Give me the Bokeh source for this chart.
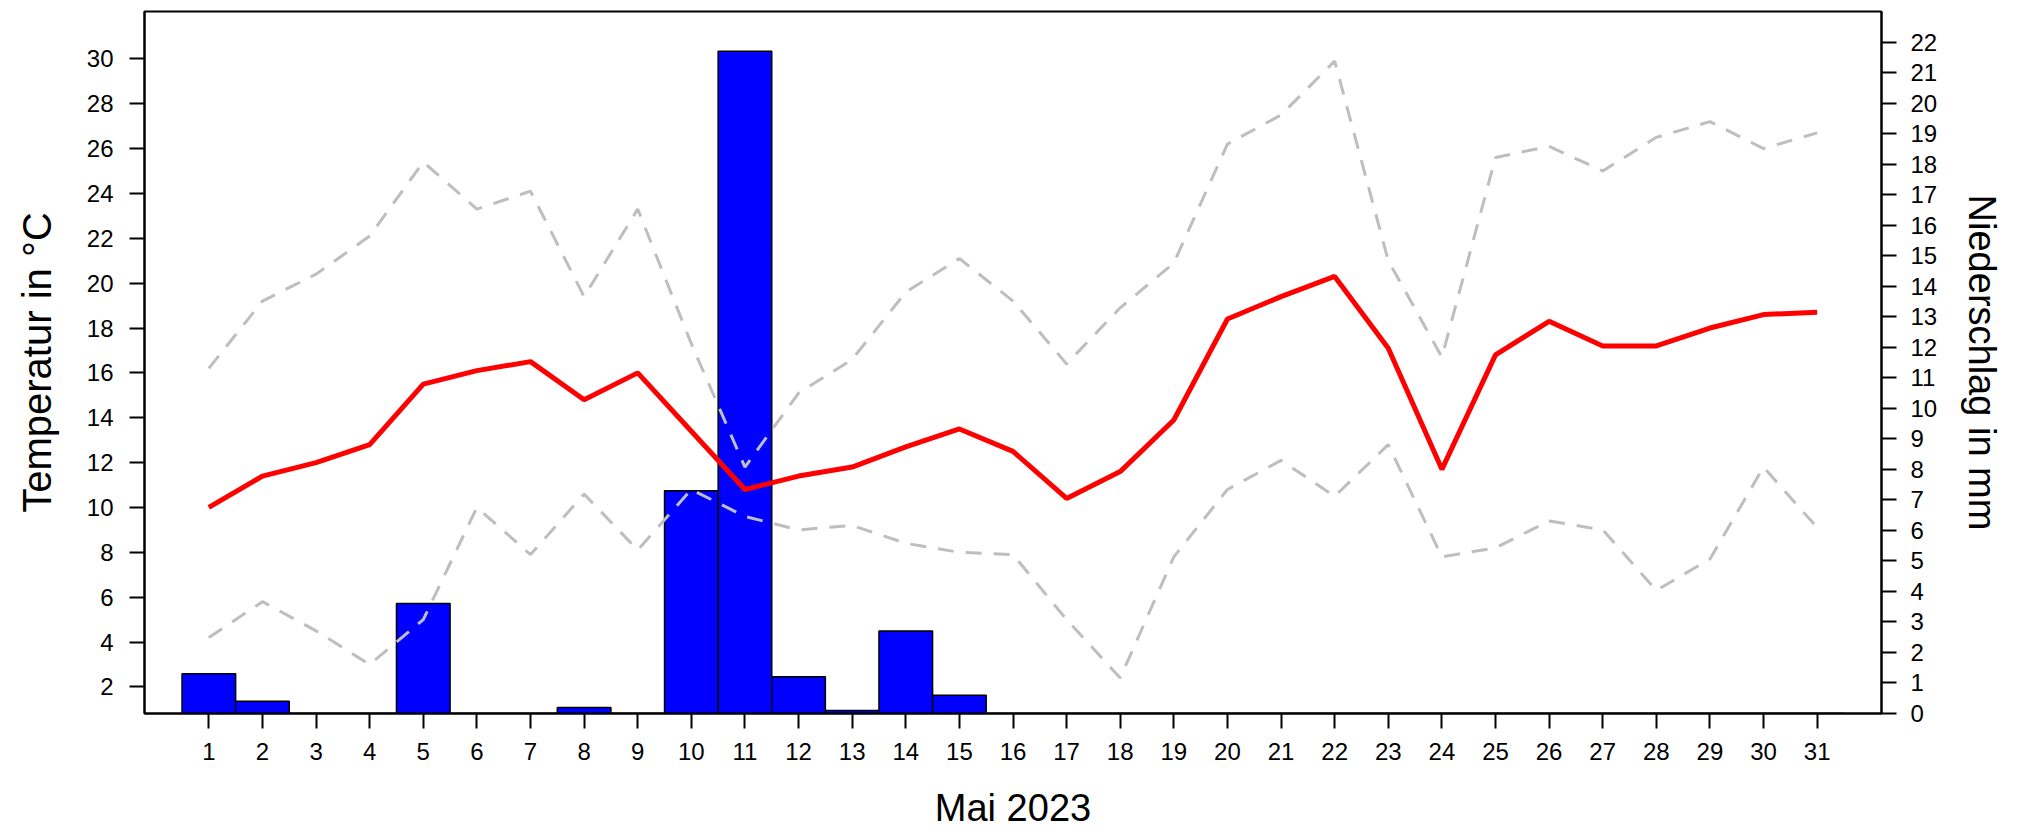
from bokeh.plotting import figure
from bokeh.models import Range1d, LinearAxis, FixedTicker
from bokeh.embed import file_html
from bokeh.resources import INLINE

days = list(range(1, 32))
t_mean = [10.0, 11.4, 12.0, 12.8, 15.5, 16.1, 16.5, 14.8, 16.0, 13.4, 10.8,
          11.4, 11.8, 12.7, 13.5, 12.5, 10.4, 11.6, 13.9, 18.4, 19.4, 20.3,
          17.1, 11.7, 16.8, 18.3, 17.2, 17.2, 18.0, 18.6, 18.7]
t_max = [16.2, 19.2, 20.4, 22.1, 25.4, 23.3, 24.1, 19.4, 23.3, 17.3, 11.8,
         15.1, 16.6, 19.6, 21.1, 19.2, 16.4, 18.9, 20.9, 26.2, 27.5, 29.9,
         21.0, 16.7, 25.6, 26.1, 25.0, 26.5, 27.2, 26.0, 26.7]
t_min = [4.2, 5.8, 4.5, 3.0, 5.0, 10.0, 7.9, 10.6, 8.1, 10.8, 9.6,
         9.0, 9.2, 8.4, 8.0, 7.9, 5.0, 2.4, 7.8, 10.8, 12.1, 10.5,
         12.8, 7.8, 8.2, 9.4, 9.0, 6.3, 7.7, 11.8, 9.1]
rain = [1.3, 0.4, 0.0, 0.0, 3.6, 0.0, 0.0, 0.2, 0.0, 7.3, 21.7,
        1.2, 0.1, 2.7, 0.6, 0.0, 0.0, 0.0, 0.0, 0.0, 0.0, 0.0,
        0.0, 0.0, 0.0, 0.0, 0.0, 0.0, 0.0, 0.0, 0.0]
temp_ticks = list(range(2, 31, 2))
rain_ticks = list(range(0, 23))

FONT = "Liberation Sans, Arial, sans-serif"

p = figure(width=2023, height=832,
           x_range=Range1d(-0.2, 32.2), y_range=Range1d(0.815, 32.11),
           output_backend="svg", toolbar_location=None,
           min_border_left=144, min_border_right=142,
           min_border_top=11, min_border_bottom=119)
p.extra_y_ranges = {"rain": Range1d(0, 23)}

p.xgrid.visible = False
p.ygrid.visible = False
p.outline_line_color = "black"
p.outline_line_width = 2
p.background_fill_color = "white"
p.border_fill_color = "white"

p.vbar(x=days, top=rain, bottom=0, width=1.0, y_range_name="rain",
       fill_color="#0000FF", line_color="black", line_width=1.5)

p.line(days, t_max, line_color="#BEBEBE", line_width=3, line_dash="16 12")
p.line(days, t_min, line_color="#BEBEBE", line_width=3, line_dash="16 12")
p.line(days, t_mean, line_color="#FF0000", line_width=5)

right = LinearAxis(y_range_name="rain", axis_label="Niederschlag in mm")
p.add_layout(right, "right")

p.xaxis.ticker = FixedTicker(ticks=days)
p.xaxis.axis_label = "Mai 2023"
p.yaxis[0].ticker = FixedTicker(ticks=temp_ticks)
p.yaxis[0].axis_label = "Temperatur in °C"
right.ticker = FixedTicker(ticks=rain_ticks)

for ax in [p.xaxis[0], p.yaxis[0], right]:
    ax.axis_line_width = 2
    ax.axis_line_color = "black"
    ax.major_tick_line_width = 2
    ax.major_tick_line_color = "black"
    ax.major_tick_in = 0
    ax.major_tick_out = 15
    ax.minor_tick_line_color = None
    ax.major_label_text_font = FONT
    ax.major_label_text_font_size = "24px"
    ax.major_label_text_color = "black"
    ax.axis_label_text_font = FONT
    ax.axis_label_text_font_size = "38px"
    ax.axis_label_text_font_style = "normal"
    ax.axis_label_text_color = "black"

p.yaxis[0].axis_label_text_font_size = "40px"

p.xaxis.major_label_standoff = 14
p.xaxis.axis_label_standoff = 24
p.yaxis[0].major_label_standoff = 16
p.yaxis[0].axis_label_standoff = 25
right.major_label_standoff = 14
right.axis_label_standoff = 21

open("out.html", "w").write(file_html(p, INLINE))
